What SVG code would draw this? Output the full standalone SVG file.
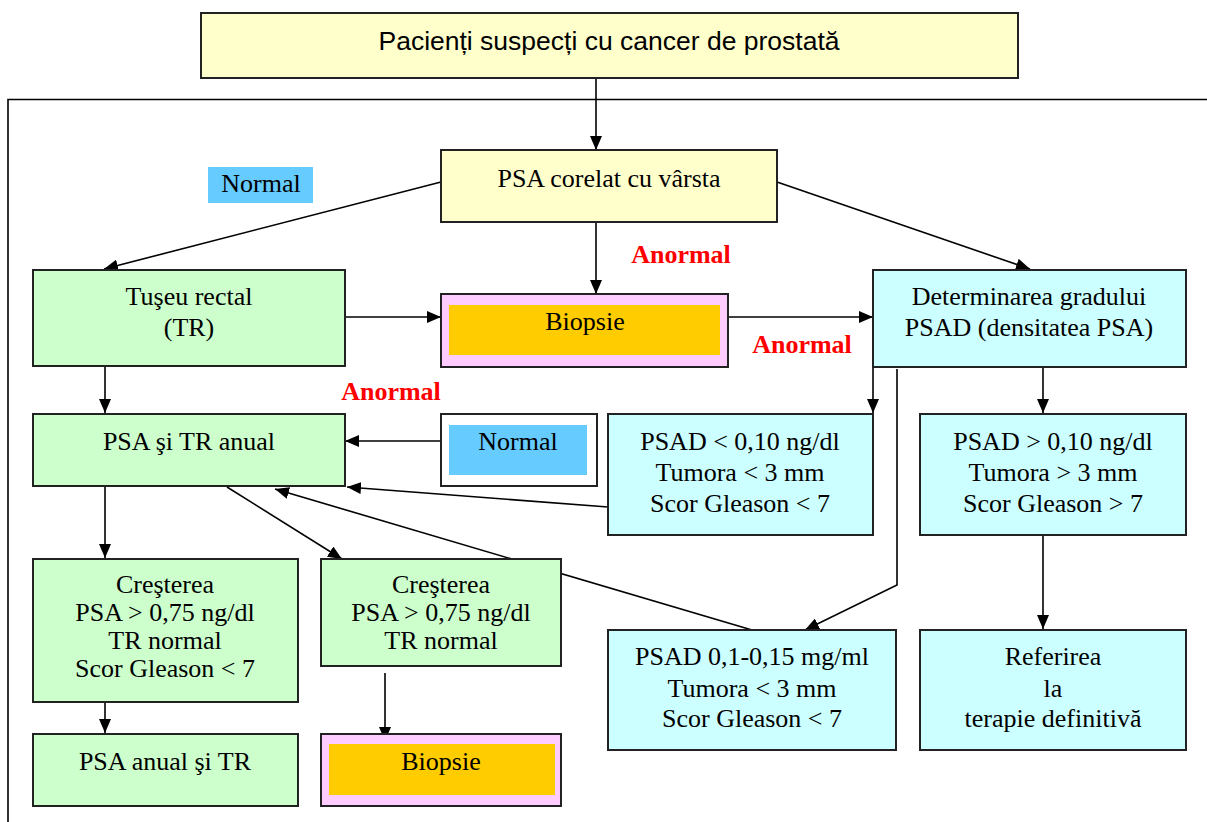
<svg xmlns="http://www.w3.org/2000/svg" width="1207" height="822" viewBox="0 0 1207 822">
<defs>
<marker id="ah" viewBox="0 0 14 12" refX="14" refY="6" markerWidth="14" markerHeight="12" markerUnits="userSpaceOnUse" orient="auto">
<path d="M0,0 L14,6 L0,12 Z" fill="#000"/>
</marker>
<style>
.box{stroke:#222;stroke-width:2}
.y{fill:#FFFFCC}.g{fill:#CCFFCC}.c{fill:#CCFFFF}.p{fill:#FFCCFF}.o{fill:#FFCC00;stroke:none}.b{fill:#66CCFF;stroke:none}.w{fill:#fff}
text{font-family:"Liberation Serif","Times New Roman",serif;font-size:26px;fill:#000;text-anchor:middle}
.sans{font-family:"Liberation Sans",Arial,sans-serif;font-size:26.5px}
.red{fill:#FF0000;font-weight:bold}
.ln{stroke:#000;stroke-width:1.6;fill:none}
.ar{marker-end:url(#ah)}
</style>
</defs>
<rect width="1207" height="822" fill="#fff"/>
<g id="frame"><path class="ln" d="M8,822 V99.5 H1207" stroke-width="2"/></g>
<g id="connectors">
<line class="ln ar" x1="596" y1="78" x2="596" y2="150"/>
<line class="ln ar" x1="441" y1="182" x2="104" y2="269"/>
<line class="ln ar" x1="596" y1="222" x2="596" y2="294"/>
<line class="ln ar" x1="777" y1="182" x2="1030" y2="269"/>
<line class="ln ar" x1="345" y1="317" x2="441" y2="317"/>
<line class="ln ar" x1="728" y1="317" x2="873" y2="317"/>
<line class="ln ar" x1="105" y1="359" x2="105" y2="413"/>
<line class="ln ar" x1="441" y1="441" x2="345" y2="441"/>
<line class="ln ar" x1="873" y1="367" x2="873" y2="413"/>
<line class="ln ar" x1="1043" y1="367" x2="1043" y2="413"/>
<polyline class="ln ar" points="897,369 897,585 805,630"/>
<line class="ln ar" x1="608" y1="507" x2="347" y2="487"/>
<line class="ln ar" x1="752" y1="630" x2="275" y2="489"/>
<line class="ln ar" x1="227" y1="487" x2="342" y2="559"/>
<line class="ln ar" x1="105" y1="487" x2="105" y2="558"/>
<line class="ln ar" x1="105" y1="702" x2="105" y2="733"/>
<line class="ln ar" x1="385" y1="673" x2="385" y2="741"/>
<line class="ln ar" x1="1043" y1="535" x2="1043" y2="629"/>
</g>
<g id="n-top"><rect class="box y" x="201" y="13" width="817" height="65"/><text class="sans" x="609" y="50">Pacienți suspecți cu cancer de prostată</text></g>
<g id="n-psa"><rect class="box y" x="441" y="150" width="336" height="72"/><text x="609" y="187">PSA corelat cu vârsta</text></g>
<g id="l-normal"><rect class="b" x="208" y="167" width="105" height="36"/><text x="261" y="192">Normal</text></g>
<g id="l-anormal1"><text class="red" x="681" y="263">Anormal</text></g>
<g id="l-anormal2"><text class="red" x="802" y="353">Anormal</text></g>
<g id="l-anormal3"><text class="red" x="391" y="400">Anormal</text></g>
<g id="n-tuseu"><rect class="box g" x="33" y="270" width="312" height="96"/><text x="189" y="305">Tuşeu rectal</text><text x="189" y="336">(TR)</text></g>
<g id="n-biopsie1"><rect class="box p" x="441" y="294" width="287" height="73"/><rect class="o" x="449" y="305" width="271" height="50"/><text x="585" y="330">Biopsie</text></g>
<g id="n-det"><rect class="box c" x="873" y="270" width="313" height="97"/><text x="1029" y="305">Determinarea gradului</text><text x="1029" y="336">PSAD (densitatea PSA)</text></g>
<g id="n-anual"><rect class="box g" x="33" y="414" width="312" height="72"/><text x="189" y="450">PSA şi TR anual</text></g>
<g id="n-normal2"><rect class="box w" x="441" y="414" width="156" height="72"/><rect class="b" x="449" y="425" width="138" height="50"/><text x="518" y="450">Normal</text></g>
<g id="n-psadlt"><rect class="box c" x="608" y="414" width="265" height="121"/><text x="740" y="450">PSAD &lt; 0,10 ng/dl</text><text x="740" y="481">Tumora &lt; 3 mm</text><text x="740" y="512">Scor Gleason &lt; 7</text></g>
<g id="n-psadgt"><rect class="box c" x="920" y="414" width="266" height="121"/><text x="1053" y="450">PSAD &gt; 0,10 ng/dl</text><text x="1053" y="481">Tumora &gt; 3 mm</text><text x="1053" y="512">Scor Gleason &gt; 7</text></g>
<g id="n-cres1"><rect class="box g" x="33" y="559" width="265" height="143"/><text x="165" y="593">Creşterea</text><text x="165" y="621">PSA &gt; 0,75 ng/dl</text><text x="165" y="649">TR normal</text><text x="165" y="677">Scor Gleason &lt; 7</text></g>
<g id="n-cres2"><rect class="box g" x="321" y="559" width="240" height="107"/><text x="441" y="593">Creşterea</text><text x="441" y="621">PSA &gt; 0,75 ng/dl</text><text x="441" y="649">TR normal</text></g>
<g id="n-psadmid"><rect class="box c" x="608" y="630" width="288" height="120"/><text x="752" y="665">PSAD 0,1-0,15 mg/ml</text><text x="752" y="697">Tumora &lt; 3 mm</text><text x="752" y="727">Scor Gleason &lt; 7</text></g>
<g id="n-ref"><rect class="box c" x="920" y="630" width="266" height="120"/><text x="1053" y="665">Referirea</text><text x="1053" y="697">la</text><text x="1053" y="727">terapie definitivă</text></g>
<g id="n-anual2"><rect class="box g" x="33" y="734" width="265" height="72"/><text x="165" y="770">PSA anual şi TR</text></g>
<g id="n-biopsie2"><rect class="box p" x="321" y="734" width="240" height="72"/><rect class="o" x="329" y="744" width="226" height="51"/><text x="441" y="770">Biopsie</text></g>
</svg>
